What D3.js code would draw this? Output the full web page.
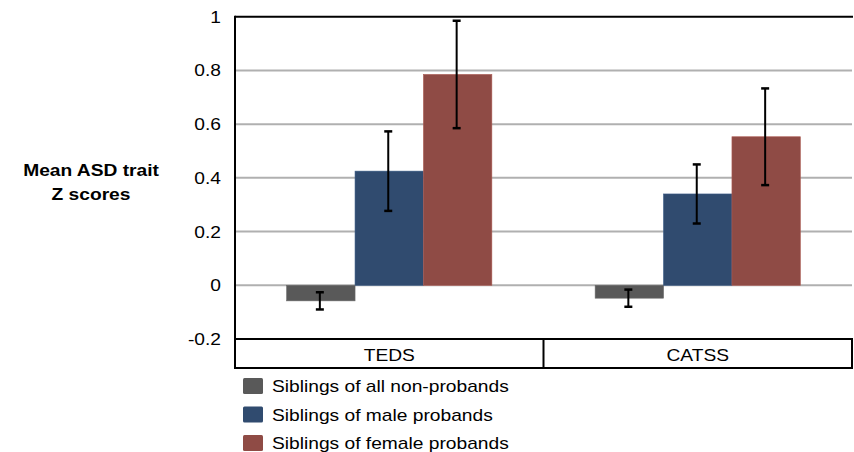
<!DOCTYPE html>
<html>
<head>
<meta charset="utf-8">
<script src="https://cdn.jsdelivr.net/npm/d3@7/dist/d3.min.js"></script>
<style>
  html, body { margin: 0; padding: 0; background: #fff; }
  svg { display: block; font-family: "Liberation Sans", Arial, sans-serif; }
</style>
</head>
<body>
<svg id="chart" width="854" height="452"></svg>
<script>
// Study samples on the x axis
const categories = ["TEDS", "CATSS"];
// Sibling groups (legend order)
const seriesNames = [
  "Siblings of all non-probands",
  "Siblings of male probands",
  "Siblings of female probands"
];
const seriesColors = ["#595959", "#304b6f", "#8f4b45"];
// Mean ASD trait Z scores, one array per sibling group (TEDS, CATSS)
const nonProbandMeans = [-0.058, -0.048];
const maleProbandMeans = [0.425, 0.34];
const femaleProbandMeans = [0.785, 0.553];
// Error bar half-lengths
const nonProbandErr = [0.032, 0.032];
const maleProbandErr = [0.148, 0.11];
const femaleProbandErr = [0.2, 0.18];
// Y-axis tick labels
const yTicks = [-0.2, 0, 0.2, 0.4, 0.6, 0.8, 1];

const means = [nonProbandMeans, maleProbandMeans, femaleProbandMeans];
const errs = [nonProbandErr, maleProbandErr, femaleProbandErr];

const svg = d3.select("#chart");
const plotLeft = 235, plotRight = 852, plotTop = 16.7, axisY = 339, rowBottom = 368;
const sx = 1.2; // horizontal text stretch

const y = d3.scaleLinear().domain([-0.2, 1]).range([axisY, plotTop]);
const x = d3.scaleBand().domain(categories).range([plotLeft, plotRight]).padding(0);
const xs = d3.scaleBand().domain(d3.range(seriesNames.length))
  .range([0, x.bandwidth()]).paddingInner(0).paddingOuter(0.755);

// Horizontal gridlines
svg.append("g").selectAll("line")
  .data(yTicks.filter(t => t > -0.2 && t < 1))
  .join("line")
  .attr("x1", plotLeft).attr("x2", plotRight)
  .attr("y1", d => y(d)).attr("y2", d => y(d))
  .attr("stroke", "#b0b0b0").attr("stroke-width", 2);

// Top border
svg.append("line")
  .attr("x1", plotLeft).attr("x2", plotRight + 1)
  .attr("y1", y(1)).attr("y2", y(1))
  .attr("stroke", "#000").attr("stroke-width", 2);

// Bars
const rows = [];
categories.forEach((c, ci) => {
  seriesNames.forEach((s, si) => {
    rows.push({ cat: c, si, v: means[si][ci], e: errs[si][ci] });
  });
});

svg.append("g").selectAll("rect")
  .data(rows)
  .join("rect")
  .attr("x", d => x(d.cat) + xs(d.si))
  .attr("width", xs.bandwidth())
  .attr("y", d => y(Math.max(0, d.v)))
  .attr("height", d => Math.abs(y(d.v) - y(0)))
  .attr("fill", d => seriesColors[d.si])
  .attr("stroke", d => d3.color(seriesColors[d.si]).brighter(0.5))
  .attr("stroke-width", 0.6);

// Error bars
const eb = svg.append("g").attr("stroke", "#000").attr("stroke-width", 2);
rows.forEach(d => {
  const cx = x(d.cat) + xs(d.si) + xs.bandwidth() / 2 - 1;
  const y1 = y(d.v + d.e), y2 = y(d.v - d.e);
  eb.append("line").attr("x1", cx).attr("x2", cx).attr("y1", y1).attr("y2", y2);
  eb.append("line").attr("x1", cx - 4).attr("x2", cx + 4).attr("y1", y1).attr("y2", y1).attr("stroke-width", 2.5);
  eb.append("line").attr("x1", cx - 4).attr("x2", cx + 4).attr("y1", y2).attr("y2", y2).attr("stroke-width", 2.5);
});

// Axis frame: left axis, category table
const frame = svg.append("g").attr("stroke", "#000").attr("stroke-width", 2).attr("fill", "none");
frame.append("line").attr("x1", plotLeft).attr("x2", plotLeft).attr("y1", plotTop - 1).attr("y2", rowBottom + 1);
frame.append("line").attr("x1", plotLeft).attr("x2", plotRight + 1).attr("y1", axisY).attr("y2", axisY);
frame.append("line").attr("x1", plotLeft).attr("x2", plotRight + 1).attr("y1", rowBottom).attr("y2", rowBottom);
categories.forEach(c => {
  const xr = x(c) + x.bandwidth();
  frame.append("line").attr("x1", xr).attr("x2", xr).attr("y1", axisY).attr("y2", rowBottom + 1);
});

// Y tick labels
svg.append("g").selectAll("text")
  .data(yTicks)
  .join("text")
  .attr("transform", d => `translate(221,${y(d) + 6}) scale(${sx},1)`)
  .attr("text-anchor", "end")
  .attr("font-size", 16)
  .attr("fill", "#000")
  .text(d => String(d));

// Category labels
svg.append("g").selectAll("text")
  .data(categories)
  .join("text")
  .attr("transform", d => `translate(${x(d) + x.bandwidth() / 2},${axisY + 22}) scale(${sx},1)`)
  .attr("text-anchor", "middle")
  .attr("font-size", 16)
  .attr("fill", "#000")
  .text(d => d);

// Y axis title
const title = svg.append("text")
  .attr("font-size", 16).attr("font-weight", "bold")
  .attr("text-anchor", "middle")
  .attr("transform", `translate(91,176) scale(${sx},1)`);
title.append("tspan").attr("x", 0).attr("y", 0).text("Mean ASD trait");
title.append("tspan").attr("x", 0).attr("y", 24).text("Z scores");

// Legend
const legend = svg.append("g").selectAll("g")
  .data(seriesNames)
  .join("g")
  .attr("transform", (d, i) => `translate(243,${378 + i * 28.5})`);
legend.append("rect")
  .attr("width", 20).attr("height", 16).attr("rx", 1.5)
  .attr("fill", (d, i) => seriesColors[i]);
legend.append("text")
  .attr("transform", `translate(29,14) scale(${sx},1)`)
  .attr("font-size", 16)
  .attr("fill", "#000")
  .text(d => d);
</script>
</body>
</html>
